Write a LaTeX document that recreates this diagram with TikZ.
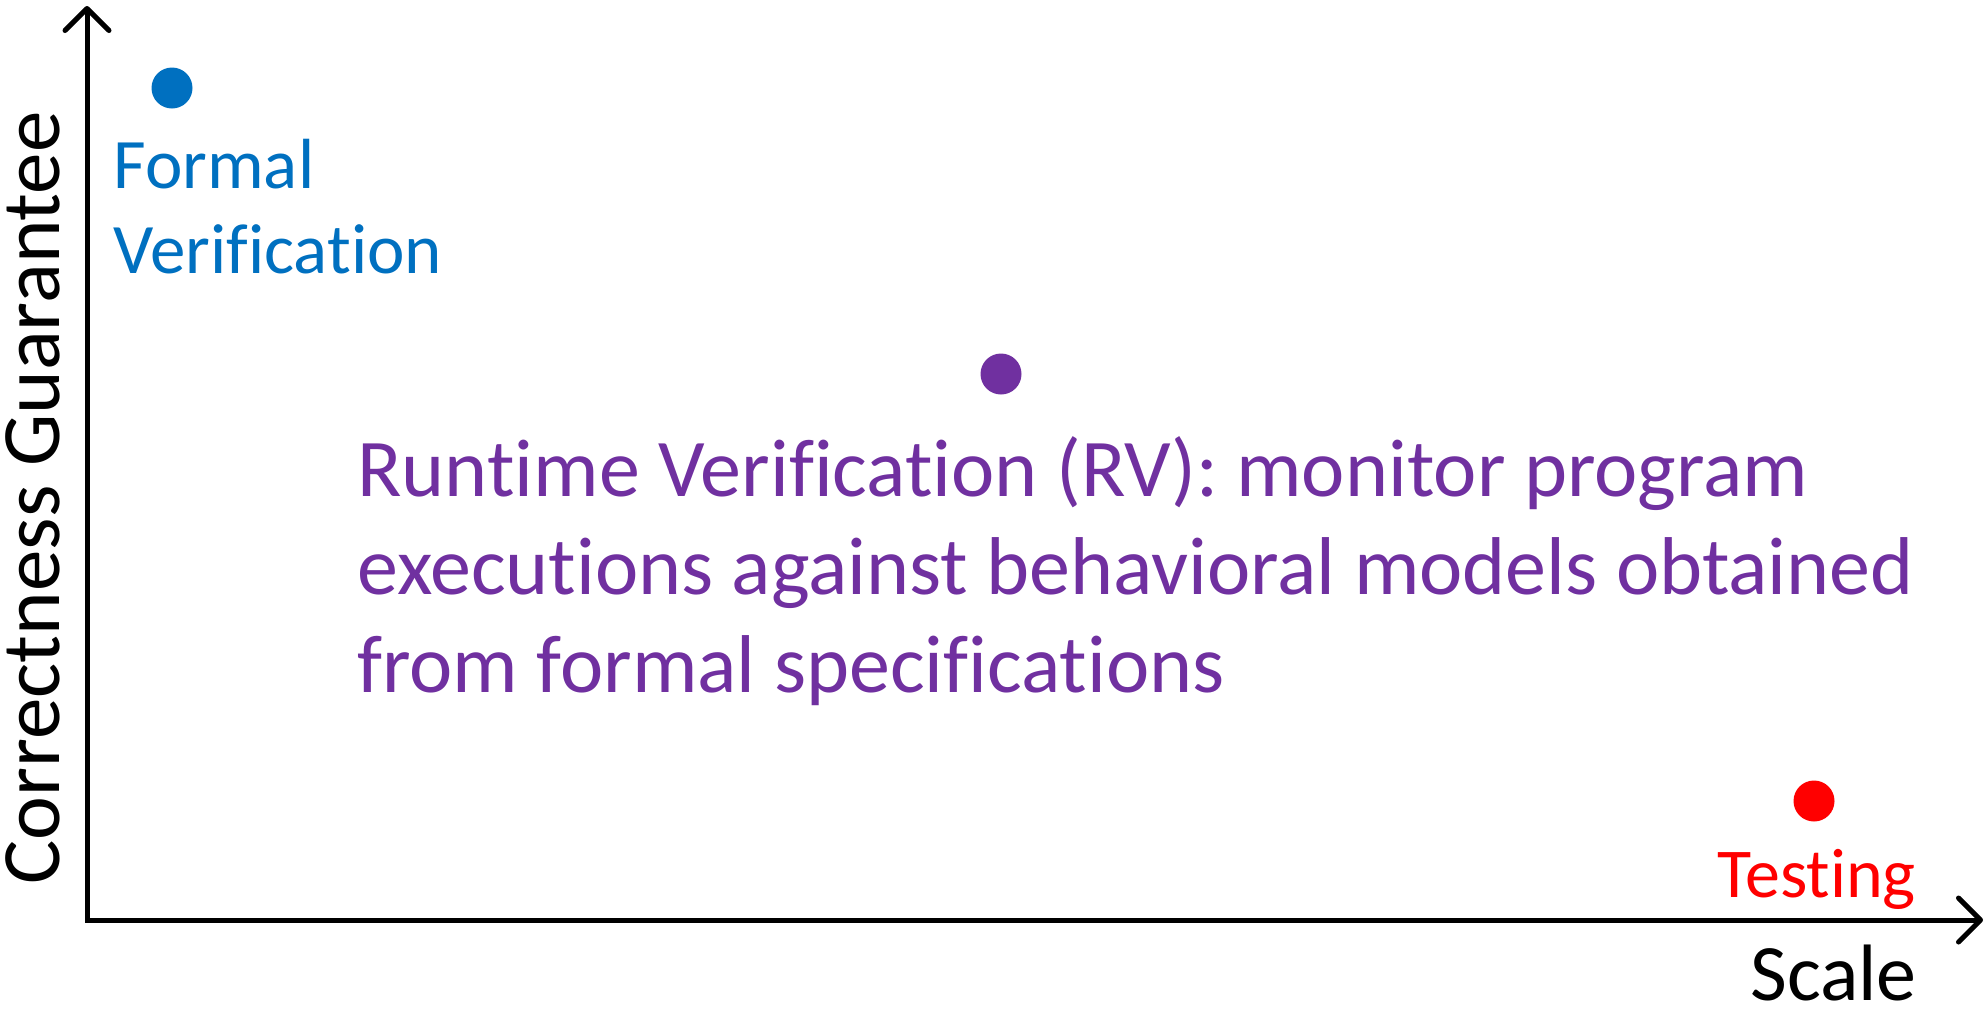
\documentclass[tikz,border=0pt]{standalone}
\usepackage{fontspec}
\setmainfont[RawFeature=-liga]{Carlito}
\usetikzlibrary{arrows.meta}
\definecolor{fvblue}{HTML}{0070C0}
\definecolor{rvpurple}{HTML}{7030A0}
\definecolor{tstred}{HTML}{FF0000}
\tikzset{
  axis/.style={line width=2.5pt,arrows={Straight Barb[length=11pt,width=22pt,round]-Straight Barb[length=11pt,width=22pt,round]}},
  dot/.style={circle,fill=#1,inner sep=0pt,minimum size=20.5pt},
  lbl/.style={inner sep=0pt,align=left,anchor=base west}
}
\begin{document}
\begin{tikzpicture}[x=.5pt,y=-.5pt]
  \useasboundingbox (0,0) rectangle (1986,1013);
  \coordinate (ytop) at (87,6);
  \coordinate (orig) at (87,920);
  \coordinate (xend) at (1983,920);
  \draw[axis] (ytop)--(orig)--(xend);
  \node[lbl,anchor=base,rotate=90,font=\fontsize{41.5}{50}\selectfont] (ylab) at (59,498) {Correctness Guarantee};
  \node[lbl,font=\fontsize{40}{48}\selectfont] (xlab) at (1750,1000) {Scale};
  % the three approaches (base = last line)
  \node[dot=fvblue] (fv) at (172,88) {};
  \node[dot=rvpurple] (rv) at (1001,374) {};
  \node[dot=tstred] (tst) at (1814,801) {};
  \node[lbl,text=fvblue,font=\fontsize{35.5}{42.5}\selectfont] (fvlab) at (113,273)
  {Formal\\Verification};
  \node[lbl,text=rvpurple,font=\fontsize{41}{49}\selectfont] (rvlab) at (357,692)
  {Runtime Verification (RV): monitor program\\
   executions against behavioral models obtained\\
   from formal specifications};
  \node[lbl,text=tstred,font=\fontsize{35}{42}\selectfont] (tstlab) at (1717,897) {Testing};
\end{tikzpicture}
\end{document}
